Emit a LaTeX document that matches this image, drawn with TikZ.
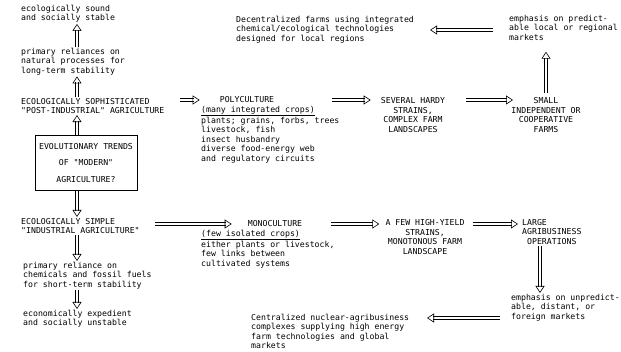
\documentclass[tikz,border=0pt]{standalone}
\usepackage{fontspec}
\setmonofont{DejaVu Sans Mono}
\usepackage{tikz}
\usetikzlibrary{arrows.meta,decorations.markings}

\begin{document}
\begin{tikzpicture}[x=1pt,y=-1pt,
    font=\ttfamily\fontsize{8.2}{9.5}\selectfont,
    lbl/.style={inner sep=1pt, align=left, anchor=north west},
    ctr/.style={inner sep=1pt, align=center},
    trendbox/.style={draw, line width=0.8pt, minimum width=102pt, minimum height=55pt, align=center, inner sep=2pt},
    dbl/.style={double, double distance=2pt, line width=0.6pt, shorten >=6pt,
      postaction={decorate, decoration={markings,
        mark=at position 1 with {\arrow[line width=0.6pt]{Triangle[open, length=7pt, width=9pt]}}}}}]

    % fix the page size
    \useasboundingbox (0,0) rectangle (621,352);

    % left column
    \coordinate (col) at (77,0);
    \node[lbl] (sound) at (20,4) {ecologically sound\\and socially stable};
    \node[lbl] (natural) at (20,47) {primary reliances on\\natural processes for\\long-term stability};
    \node[lbl] (postind) at (20,97) {ECOLOGICALLY SOPHISTICATED\\"POST-INDUSTRIAL" AGRICULTURE};
    \node[trendbox] (trends) at (86,163) {EVOLUTIONARY TRENDS\\[7pt]OF "MODERN"\\[7pt]AGRICULTURE?};
    \node[lbl] (indust) at (20,217) {ECOLOGICALLY SIMPLE\\"INDUSTRIAL AGRICULTURE"};
    \node[lbl] (chem) at (22,261) {primary reliance on\\chemicals and fossil fuels\\for short-term stability};
    \node[lbl] (expedient) at (22,309) {economically expedient\\and socially unstable};

    % upper row
    \node[ctr] (poly) at (247,100) {POLYCULTURE};
    \node[lbl] (polylist) at (200,105) {\underline{(many integrated crops)}\\plants; grains, forbs, trees\\livestock, fish\\insect husbandry\\diverse food-energy web\\and regulatory circuits};
    \node[ctr] (hardy) at (413,115) {SEVERAL HARDY\\STRAINS,\\COMPLEX FARM\\LANDSCAPES};
    \node[ctr] (small) at (546,115) {SMALL\\INDEPENDENT OR\\COOPERATIVE\\FARMS};
    \node[lbl] (predict) at (508,14) {emphasis on predict-\\able local or regional\\markets};
    \node[lbl] (decent) at (235,15) {Decentralized farms using integrated\\chemical/ecological technologies\\designed for local regions};

    % lower row
    \node[ctr] (mono) at (275,224) {MONOCULTURE};
    \node[lbl] (monolist) at (200,229) {\underline{(few isolated crops)}\\either plants or livestock,\\few links between\\cultivated systems};
    \node[ctr] (highyield) at (425,237) {A FEW HIGH-YIELD\\STRAINS,\\MONOTONOUS FARM\\LANDSCAPE};
    \node[lbl] (large) at (521,218) {LARGE\\AGRIBUSINESS\\\phantom{A}OPERATIONS};
    \node[lbl] (unpredict) at (510,293) {emphasis on unpredict-\\able, distant, or\\foreign markets};
    \node[lbl] (central) at (250,313) {Centralized nuclear-agribusiness\\complexes supplying high energy\\farm technologies and global\\markets};

    % draw arrows of the left column
    \draw[dbl] (natural.north -| col) -- (sound.south -| col);
    \draw[dbl] (postind.north -| col) -- (natural.south -| col);
    \draw[dbl] (trends.north -| col) -- (postind.south -| col);
    \draw[dbl] (trends.south -| col) -- (indust.north -| col);
    \draw[dbl] (indust.south -| col) -- (chem.north -| col);
    \draw[dbl] (chem.south -| col) -- (expedient.north -| col);

    % draw arrows of the upper row
    \draw[dbl] ([xshift=14pt]postind.east |- poly.west) -- ([xshift=-19pt]poly.west);
    \draw[dbl] ([xshift=-48pt]hardy.west |- poly.west) -- ([xshift=-9pt]hardy.west |- poly.west);
    \draw[dbl] ([xshift=53pt]hardy.north |- poly.west) -- ([xshift=-33pt]small.north |- poly.west);
    \draw[dbl] ([yshift=3pt]small.north) -- ([yshift=-10pt]small.north |- predict.south);
    \draw[dbl] ([xshift=-15pt]predict.west |- decent.north east) ++(0,15) -- ++(-63,0);

    % draw arrows of the lower row
    \draw[dbl] ([xshift=14pt]indust.north east |- mono.west) -- ([xshift=-15pt]mono.west);
    \draw[dbl] ([xshift=28pt]mono.east) -- ([xshift=-5pt]highyield.north west |- mono.west);
    \draw[dbl] ([xshift=7pt]highyield.north east |- mono.west) -- ([xshift=-3pt]large.north west |- mono.west);
    \draw[dbl] ([xshift=19pt]large.south west) -- ([xshift=19pt]large.south west |- unpredict.north);
    \draw[dbl] ([xshift=-10pt]unpredict.north west |- central.north east) ++(0,5) -- ++(-73,0);

  \end{tikzpicture}
\end{document}
